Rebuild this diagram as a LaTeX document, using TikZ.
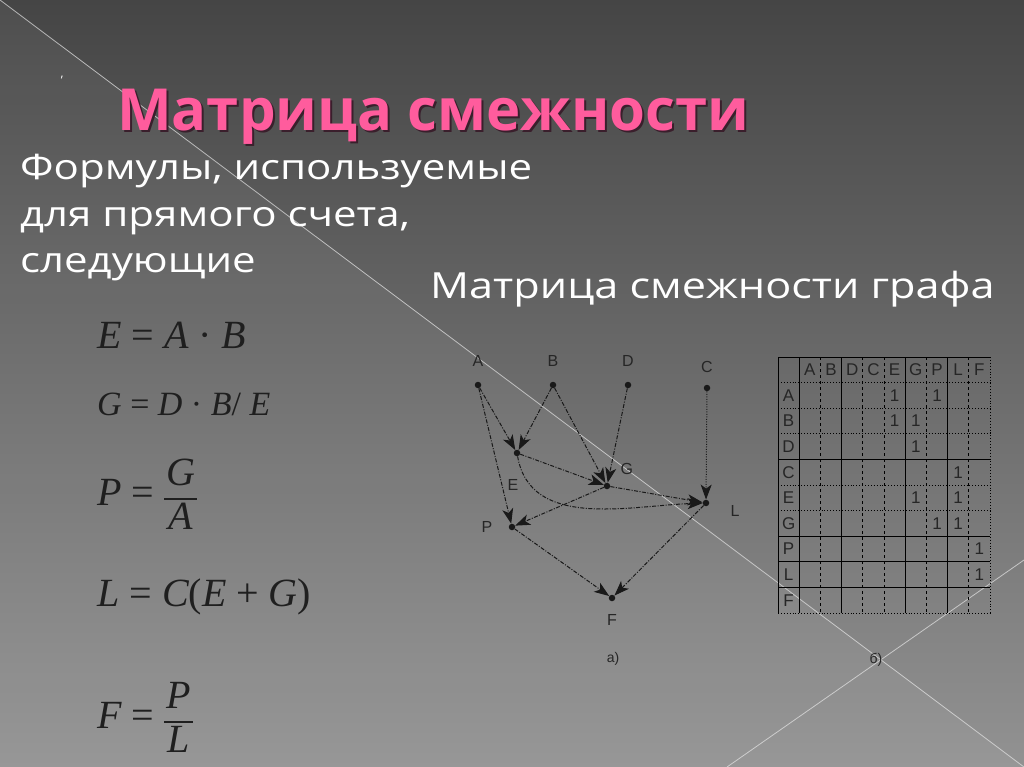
\documentclass[tikz,border=0pt]{standalone}
\usepackage{fontspec}
\setmainfont{Open Sans}
\newfontfamily\bodyfont[FakeStretch=1.2]{Open Sans}
\newfontfamily\formfont{Liberation Serif}
\newfontfamily\scanfont{Liberation Sans}
\usepackage{xcolor}
\usetikzlibrary{arrows.meta, positioning}
\definecolor{bgtop}{HTML}{454545}
\definecolor{bgmid}{HTML}{5F5F5F}
\definecolor{bgbot}{HTML}{929292}
\definecolor{titlepink}{HTML}{FF5C9D}
\definecolor{titleshade}{HTML}{3A1F2C}
\newcommand{\fv}[1]{{\itshape #1}}
\newcommand{\fracpart}[2]{{\setlength{\arrayrulewidth}{1.6pt}\renewcommand{\arraystretch}{0.88}%
    \begin{tabular}{@{\hspace{2pt}}c@{\hspace{2pt}}}#1\\\hline #2\end{tabular}}}

\begin{document}
\begin{tikzpicture}[x=1pt, y=-1pt,
    body/.style={anchor=base west, text=white, inner sep=0pt},
    dot/.style={circle, fill=black!90, inner sep=0pt, minimum size=6.5pt},
    vlbl/.style={font=\scanfont\fontsize{16}{16}\selectfont, text=black!85, inner sep=1pt},
    edge/.style={-{Stealth[length=15pt, width=11pt, inset=4pt]}, black!90, line width=1pt, dash pattern=on 4pt off 1.5pt on 1pt off 1.5pt},
    formula/.style={anchor=base west, text=black!88, inner sep=0pt, font=\formfont\fontsize{40}{48}\selectfont},
    cell/.style={font=\scanfont\fontsize{17}{17}\selectfont, text=black!85, inner sep=0pt},
    grid line/.style={black, line width=0.9pt}
    ]
    % Background
    \useasboundingbox (0,0) rectangle (1024,767);
    \shade[top color=bgtop, middle color=bgmid, bottom color=bgbot] (0,0) rectangle (1024,767);
    \fill[white, opacity=0.05] (0,0) -- (1024,767) -- (0,767) -- cycle;
    \draw[white!80!gray, opacity=0.7, line width=0.8pt] (0,0) -- (1024,767);
    \draw[white!80!gray, opacity=0.7, line width=0.8pt] (727,767) -- (1024,560);

    % Headings
    \node[text=white, font=\fontsize{12}{12}\selectfont, inner sep=0pt] (mark) at (62,78) {,};
    \node[anchor=base west, inner sep=0pt, text=titleshade, font=\bfseries\fontsize{58}{60}\selectfont] (titleshadow) at (119,133) {Матрица смежности};
    \node[anchor=base west, inner sep=0pt, text=titlepink, font=\bfseries\fontsize{58}{60}\selectfont] (title) at (117,131) {Матрица смежности};
    \node[body, font=\bodyfont\fontsize{35}{40}\selectfont] (intro1) at (20,180) {Формулы, используемые};
    \node[body, font=\bodyfont\fontsize{35}{40}\selectfont] (intro2) at (20,226) {для прямого счета,};
    \node[body, font=\bodyfont\fontsize{35}{40}\selectfont] (intro3) at (20,272) {следующие};
    \node[body, font=\bodyfont\fontsize{36}{40}\selectfont] (mtitle) at (430,298) {Матрица смежности графа};

    % Formulas
    \node[formula] (f1) at (97,348) {\fv{E} = \fv{A} · \fv{B}};
    \node[formula, font=\formfont\fontsize{34}{40}\selectfont] (f2) at (97,415) {\fv{G} = \fv{D} · \fv{B}/ \fv{E}};
    \node[formula] (f3) at (97,505) {\fv{P} = \fracpart{\fv{G}}{\fv{A}}};
    \node[formula] (f4) at (97,606) {\fv{L} = \fv{C}(\fv{E} + \fv{G})};
    \node[formula] (f5) at (97,728) {\fv{F} = \fracpart{\fv{P}}{\fv{L}}};

    % Graph nodes
    \node[dot] (nA) at (478,385) {};
    \node[dot] (nB) at (553,385) {};
    \node[dot] (nD) at (628,385) {};
    \node[dot] (nC) at (707,388) {};
    \node[dot] (nE) at (517,453) {};
    \node[dot] (nG) at (607,486) {};
    \node[dot] (nL) at (706,503) {};
    \node[dot] (nP) at (512,527) {};
    \node[dot] (nF) at (612,598) {};
    \node[vlbl, above=14pt of nA] (lA) {A};
    \node[vlbl, above=14pt of nB] (lB) {B};
    \node[vlbl, above=14pt of nD] (lD) {D};
    \node[vlbl, above=11pt of nC] (lC) {C};
    \node[vlbl, below=22pt of nE, xshift=-4pt] (lE) {E};
    \node[vlbl, above right=8pt and 10pt of nG] (lG) {G};
    \node[vlbl, right=20pt of nL, yshift=-8pt] (lL) {L};
    \node[vlbl, left=15pt of nP] (lP) {P};
    \node[vlbl, below=12pt of nF] (lF) {F};

    % Arrows
    \draw[edge] (nA) -- (nE);
    \draw[edge] (nA) -- (nP);
    \draw[edge] (nB) -- (nE);
    \draw[edge] (nB) -- (nG);
    \draw[edge] (nD) -- (nG);
    \draw[edge, dash pattern=on 1pt off 1.5pt] (nC) -- (nL);
    \draw[edge] (nE) -- (nG);
    \draw[edge] (nE) to[out=-80, in=182] (nL);
    \draw[edge] (nG) -- (nL);
    \draw[edge] (nG) -- (nP);
    \draw[edge] (nP) -- (nF);
    \draw[edge] (nL) -- (nF);
    \node[vlbl, font=\scanfont\fontsize{14}{14}\selectfont] (capa) at (613,659) {а)};

    % Matrix
    \foreach \i/\s in {0/solid,1/solid,2/dashed,3/solid,4/dashed,5/dashed,6/solid,7/dashed,8/solid,9/dashed,10/dotted}
        \draw[grid line, \s] ({778+21.2*\i},357) -- ({778+21.2*\i},613);
    \foreach \j/\s in {0/solid,1/dotted,2/dotted,3/dotted,4/solid,5/dotted,6/dotted,7/solid,8/solid,9/solid,10/dotted}
        \draw[grid line, \s] (778,{357+25.6*\j}) -- (990,{357+25.6*\j});
    \foreach \n [count=\k] in {A,B,D,C,E,G,P,L,F} {
        \node[cell] at ({778+21.2*\k+10.6},370) {\n};
        \node[cell] at (788.6,{357+25.6*\k+12.8}) {\n};
    }
    \foreach \r/\c in {1/5,1/7,2/5,2/6,3/6,4/8,5/6,5/8,6/7,6/8,7/9,8/9}
        \node[cell] at ({778+21.2*\c+10.6},{357+25.6*\r+12.8}) {1};
    \node[vlbl, font=\scanfont\fontsize{14}{14}\selectfont] (capb) at (876,660) {б)};
\end{tikzpicture}
\end{document}
